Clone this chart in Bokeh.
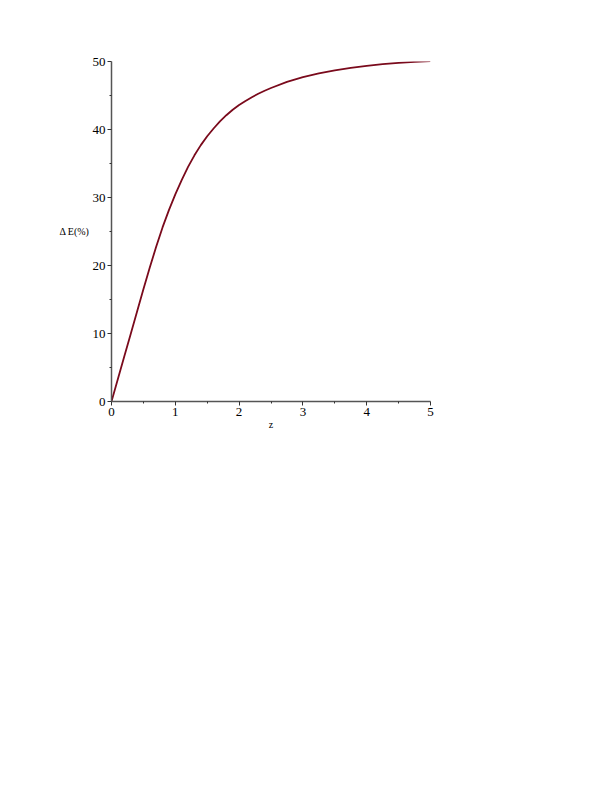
from bokeh.plotting import figure
from bokeh.models import Range1d, FixedTicker
from bokeh.embed import file_html
from bokeh.resources import INLINE

z_vals = [0.0, 0.1, 0.2, 0.3, 0.4, 0.5, 0.6, 0.7, 0.8, 0.9, 1.0, 1.1, 1.2, 1.3, 1.4, 1.5,
          1.6, 1.7, 1.8, 1.9, 2.0, 2.1, 2.2, 2.3, 2.4, 2.5, 2.75, 3.0, 3.25, 3.5, 3.75,
          4.0, 4.25, 4.5, 4.75, 5.0]
dE_vals = [0.0, 3.3, 6.6, 9.9, 13.2, 16.5, 19.7, 22.75, 25.6, 28.15, 30.45, 32.55, 34.5, 36.2,
           37.7, 39.0, 40.15, 41.2, 42.1, 42.9, 43.6, 44.2, 44.75, 45.25, 45.7, 46.1, 47.0,
           47.7, 48.25, 48.7, 49.05, 49.35, 49.6, 49.8, 49.95, 50.05]
x_ticks = [0, 1, 2, 3, 4, 5]
x_minor = [0.5, 1.5, 2.5, 3.5, 4.5]
y_ticks = [0, 10, 20, 30, 40, 50]
y_minor = [5, 15, 25, 35, 45]

p = figure(output_backend="svg", toolbar_location=None,
           frame_width=319, frame_height=340,
           min_border_left=111, min_border_top=61, min_border_bottom=40, min_border_right=30,
           x_range=Range1d(0, 5), y_range=Range1d(0, 50))
p.outline_line_color = None
p.xgrid.grid_line_color = None
p.ygrid.grid_line_color = None
p.background_fill_color = "white"
p.border_fill_color = "white"

p.line(z_vals, dE_vals, line_color="#7a0a1c", line_width=1.8, line_join="round")

font = "Liberation Serif"
for ax in (p.xaxis[0], p.yaxis[0]):
    ax.axis_line_color = "#555555"
    ax.axis_line_width = 1.5
    ax.major_tick_line_color = "#333333"
    ax.minor_tick_line_color = "#333333"
    ax.major_tick_in = 0
    ax.major_tick_out = 4
    ax.minor_tick_in = 0
    ax.minor_tick_out = 2
    ax.major_label_text_font = font
    ax.major_label_text_font_size = "13px"
    ax.major_label_text_color = "black"
    ax.axis_label_text_font = font
    ax.axis_label_text_font_size = "10px"
    ax.axis_label_text_font_style = "normal"
    ax.axis_label_text_color = "black"

p.xaxis[0].ticker = FixedTicker(ticks=x_ticks, minor_ticks=x_minor)
p.yaxis[0].ticker = FixedTicker(ticks=y_ticks, minor_ticks=y_minor)
p.xaxis[0].axis_label = "z"
p.xaxis[0].axis_label_standoff = 0
p.xaxis[0].major_label_standoff = 2
p.yaxis[0].axis_label = "Δ E(%)"
p.yaxis[0].axis_label_orientation = "horizontal"
p.yaxis[0].axis_label_standoff = 0
p.yaxis[0].major_label_standoff = 2

open("out.html", "w").write(file_html(p, INLINE))
